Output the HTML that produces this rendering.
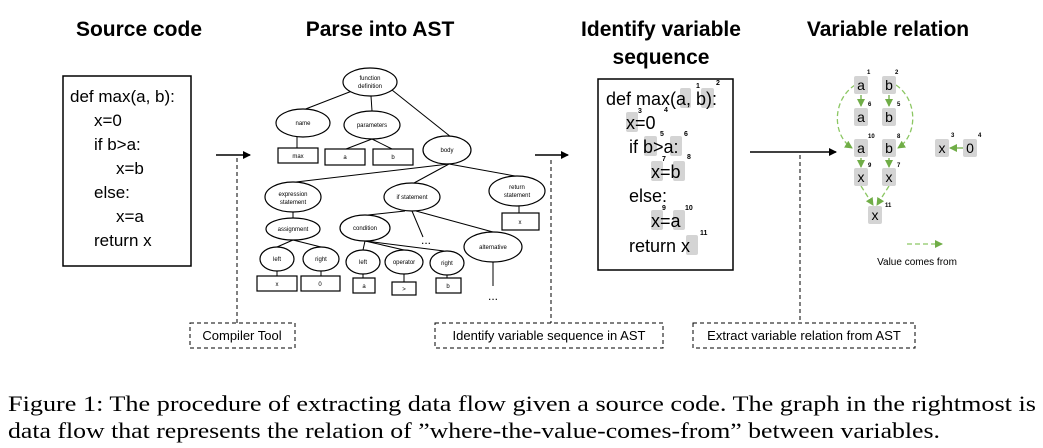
<!DOCTYPE html>
<html><head><meta charset="utf-8"><style>
html,body{margin:0;padding:0;background:#fff;}
svg{display:block;font-family:"Liberation Sans",sans-serif;}
</style></head><body>
<svg width="1043" height="448" viewBox="0 0 1043 448" xmlns="http://www.w3.org/2000/svg">
<defs>
<marker id="ah" markerWidth="8" markerHeight="8" refX="7" refY="4" orient="auto" markerUnits="userSpaceOnUse"><path d="M0,0 L8,4 L0,8 z" fill="#000"/></marker>
<marker id="gh" markerWidth="8" markerHeight="8" refX="7" refY="4" orient="auto" markerUnits="userSpaceOnUse"><path d="M0,0 L8,4 L0,8 z" fill="#70ad47"/></marker>
</defs>
<g font-weight="bold" font-size="21" text-anchor="middle" fill="#000">
<text x="139" y="36">Source code</text>
<text x="380" y="36">Parse into AST</text>
<text x="661" y="36">Identify variable</text>
<text x="661" y="64">sequence</text>
<text x="888" y="36">Variable relation</text>
</g>
<!-- source code -->
<rect x="63" y="76" width="128" height="190" fill="none" stroke="#000" stroke-width="1.5"/>
<g font-size="17" fill="#000">
<text x="70" y="102">def max(a, b):</text>
<text x="94" y="126">x=0</text>
<text x="94" y="150">if b&gt;a:</text>
<text x="116" y="174">x=b</text>
<text x="94" y="198">else:</text>
<text x="116" y="222">x=a</text>
<text x="94" y="246">return x</text>
</g>
<!-- arrows -->
<line x1="216" y1="155" x2="250" y2="155" stroke="#000" stroke-width="1.5" marker-end="url(#ah)"/>
<line x1="535" y1="155" x2="568" y2="155" stroke="#000" stroke-width="1.5" marker-end="url(#ah)"/>
<line x1="750" y1="152" x2="836" y2="152" stroke="#000" stroke-width="1.5" marker-end="url(#ah)"/>
<g stroke="#000" stroke-dasharray="4,3" fill="none" stroke-width="1">
<line x1="237" y1="158" x2="237" y2="323"/>
<line x1="551" y1="160" x2="551" y2="323"/>
<line x1="800" y1="155" x2="800" y2="323"/>
<rect x="190" y="323" width="105" height="25"/>
<rect x="435" y="323" width="228" height="25"/>
<rect x="693" y="323" width="222" height="25"/>
</g>
<g font-size="13" fill="#000" text-anchor="middle">
<text x="242" y="340">Compiler Tool</text>
<text x="549" y="340">Identify variable sequence in AST</text>
<text x="804" y="340">Extract variable relation from AST</text>
</g>
<!-- AST -->
<g stroke="#000" stroke-width="1" fill="none">
<line x1="352" y1="91" x2="303" y2="110"/>
<line x1="371" y1="96" x2="372" y2="111"/>
<line x1="392" y1="90" x2="451" y2="137"/>
<line x1="297" y1="137" x2="297" y2="148"/>
<line x1="372" y1="139" x2="346" y2="149"/>
<line x1="372" y1="139" x2="392" y2="149"/>
<line x1="449" y1="164" x2="296" y2="182"/>
<line x1="449" y1="164" x2="414" y2="183"/>
<line x1="449" y1="164" x2="515" y2="176"/>
<line x1="293" y1="212" x2="293" y2="218"/>
<line x1="293" y1="240" x2="277" y2="247"/>
<line x1="293" y1="240" x2="321" y2="247"/>
<line x1="277" y1="271" x2="277" y2="276"/>
<line x1="321" y1="271" x2="321" y2="276"/>
<line x1="405" y1="211" x2="368" y2="215"/>
<line x1="412" y1="211" x2="423" y2="237"/>
<line x1="416" y1="211" x2="493" y2="232"/>
<line x1="365" y1="241" x2="363" y2="250"/>
<line x1="365" y1="241" x2="404" y2="250"/>
<line x1="365" y1="241" x2="444" y2="251"/>
<line x1="363" y1="274" x2="363" y2="278"/>
<line x1="404" y1="274" x2="404" y2="282"/>
<line x1="447" y1="275" x2="447" y2="278"/>
<line x1="493" y1="262" x2="493" y2="286"/>
<line x1="519" y1="206" x2="519" y2="213"/>
</g>
<g stroke="#000" stroke-width="1.2" fill="#fff">
<ellipse cx="370" cy="82" rx="27" ry="14"/>
<ellipse cx="303" cy="123" rx="27" ry="14"/>
<ellipse cx="372" cy="125" rx="28" ry="14"/>
<ellipse cx="447" cy="150" rx="24" ry="14"/>
<ellipse cx="293" cy="197" rx="28" ry="15"/>
<ellipse cx="293" cy="229" rx="27" ry="11"/>
<ellipse cx="277" cy="259" rx="17" ry="12"/>
<ellipse cx="321" cy="259" rx="18" ry="12"/>
<ellipse cx="412" cy="197" rx="28" ry="14"/>
<ellipse cx="365" cy="228" rx="25" ry="13"/>
<ellipse cx="363" cy="262" rx="17" ry="12"/>
<ellipse cx="404" cy="262" rx="19" ry="12"/>
<ellipse cx="447" cy="263" rx="17" ry="12"/>
<ellipse cx="493" cy="247" rx="29" ry="15"/>
<ellipse cx="517" cy="191" rx="28" ry="15"/>
<rect x="278" y="148" width="40" height="15"/>
<rect x="325" y="149" width="40" height="16"/>
<rect x="373" y="149" width="40" height="16"/>
<rect x="257" y="276" width="40" height="15"/>
<rect x="301" y="276" width="39" height="15"/>
<rect x="353" y="278" width="22" height="15"/>
<rect x="392" y="282" width="24" height="13"/>
<rect x="436" y="278" width="25" height="15"/>
<rect x="502" y="213" width="37" height="17"/>
</g>
<g font-size="6" fill="#000" text-anchor="middle">
<text x="370" y="80">function</text><text x="370" y="88">definition</text>
<text x="303" y="125">name</text>
<text x="372" y="127">parameters</text>
<text x="447" y="152">body</text>
<text x="298" y="158">max</text>
<text x="345" y="159">a</text>
<text x="393" y="159">b</text>
<text x="293" y="196">expression</text><text x="293" y="204">statement</text>
<text x="293" y="231">assignment</text>
<text x="277" y="261">left</text>
<text x="321" y="261">right</text>
<text x="277" y="286">x</text>
<text x="320" y="286">0</text>
<text x="412" y="199">if statement</text>
<text x="365" y="230">condition</text>
<text x="363" y="264">left</text>
<text x="404" y="264">operator</text>
<text x="447" y="265">right</text>
<text x="364" y="288">a</text>
<text x="404" y="291">&gt;</text>
<text x="448" y="288">b</text>
<text x="493" y="249">alternative</text>
<text x="517" y="189">return</text><text x="517" y="197">statement</text>
<text x="520" y="224">x</text>
</g>
<g font-size="12" fill="#000" text-anchor="middle">
<text x="426" y="244">...</text>
<text x="493" y="300">...</text>
</g>
<!-- identify sequence -->
<rect x="598" y="79" width="135" height="191" fill="none" stroke="#000" stroke-width="1.5"/>
<g fill="#d4d4d4">
<rect x="680" y="88" width="11" height="20" rx="2"/>
<rect x="701" y="88" width="13" height="20" rx="2"/>
<rect x="626" y="112" width="12" height="20" rx="2"/>
<rect x="644" y="136" width="13" height="20" rx="2"/>
<rect x="670" y="136" width="12" height="20" rx="2"/>
<rect x="651" y="161" width="12" height="20" rx="2"/>
<rect x="673" y="161" width="12" height="20" rx="2"/>
<rect x="651" y="210" width="12" height="20" rx="2"/>
<rect x="673" y="210" width="12" height="20" rx="2"/>
<rect x="686" y="235" width="12" height="20" rx="2"/>
</g>
<g font-size="18" fill="#000">
<text x="606" y="105">def max(a, b):</text>
<text x="626" y="129">x=0</text>
<text x="629" y="153">if b&gt;a:</text>
<text x="651" y="178">x=b</text>
<text x="629" y="202">else:</text>
<text x="651" y="227">x=a</text>
<text x="629" y="252">return x</text>
</g>
<g font-size="7" font-weight="bold" fill="#000">
<text x="696" y="88">1</text><text x="716" y="85">2</text>
<text x="638" y="113">3</text><text x="664" y="112">4</text>
<text x="660" y="136">5</text><text x="684" y="136">6</text>
<text x="662" y="161">7</text><text x="687" y="159">8</text>
<text x="662" y="210">9</text><text x="685" y="210">10</text>
<text x="700" y="235">11</text>
</g>
<!-- variable relation -->
<g stroke="#8cc763" stroke-width="1.3" fill="none" stroke-dasharray="5,3">
<path d="M855,85 C832,100 832,135 852,148" marker-end="url(#gh)"/>
<path d="M896,85 C918,100 918,135 898,148" marker-end="url(#gh)"/>
<line x1="861" y1="95" x2="861" y2="106" stroke-dasharray="none" stroke="#70ad47" marker-end="url(#gh)"/>
<line x1="889" y1="95" x2="889" y2="106" stroke-dasharray="none" stroke="#70ad47" marker-end="url(#gh)"/>
<line x1="861" y1="158" x2="861" y2="167" stroke-dasharray="none" stroke="#70ad47" marker-end="url(#gh)"/>
<line x1="889" y1="158" x2="889" y2="167" stroke-dasharray="none" stroke="#70ad47" marker-end="url(#gh)"/>
<line x1="861" y1="186" x2="873" y2="205" marker-end="url(#gh)"/>
<line x1="889" y1="186" x2="877" y2="205" marker-end="url(#gh)"/>
<line x1="963" y1="148" x2="950" y2="148" stroke-dasharray="none" stroke="#70ad47" marker-end="url(#gh)"/>
<line x1="907" y1="244" x2="942" y2="244" marker-end="url(#gh)"/>
</g>
<g fill="#d4d4d4">
<rect x="854" y="76" width="14" height="18" rx="2"/>
<rect x="882" y="76" width="14" height="18" rx="2"/>
<rect x="854" y="108" width="14" height="18" rx="2"/>
<rect x="882" y="108" width="14" height="18" rx="2"/>
<rect x="854" y="139" width="14" height="18" rx="2"/>
<rect x="882" y="139" width="14" height="18" rx="2"/>
<rect x="854" y="168" width="14" height="18" rx="2"/>
<rect x="882" y="168" width="14" height="18" rx="2"/>
<rect x="868" y="206" width="14" height="18" rx="2"/>
<rect x="935" y="139" width="14" height="18" rx="2"/>
<rect x="963" y="139" width="14" height="18" rx="2"/>
</g>
<g font-size="14" fill="#000" text-anchor="middle">
<text x="861" y="90">a</text><text x="889" y="90">b</text>
<text x="861" y="122">a</text><text x="889" y="122">b</text>
<text x="861" y="153">a</text><text x="889" y="153">b</text>
<text x="861" y="182">x</text><text x="889" y="182">x</text>
<text x="875" y="220">x</text>
<text x="942" y="153">x</text><text x="970" y="153">0</text>
</g>
<g font-size="6" font-weight="bold" fill="#000">
<text x="867" y="74">1</text><text x="895" y="74">2</text>
<text x="868" y="106">6</text><text x="897" y="106">5</text>
<text x="868" y="138">10</text><text x="897" y="138">8</text>
<text x="868" y="167">9</text><text x="897" y="167">7</text>
<text x="885" y="207">11</text>
<text x="951" y="137">3</text><text x="978" y="137">4</text>
</g>
<text x="917" y="265" font-size="10" text-anchor="middle" fill="#000">Value comes from</text>
<!-- caption -->
<g font-family="Liberation Serif, serif" font-size="22" fill="#000">
<text x="8" y="411" textLength="1028" lengthAdjust="spacingAndGlyphs">Figure 1: The procedure of extracting data flow given a source code. The graph in the rightmost is</text>
<text x="8" y="438" textLength="932" lengthAdjust="spacingAndGlyphs">data flow that represents the relation of ”where-the-value-comes-from” between variables.</text>
</g>
</svg>
</body></html>
